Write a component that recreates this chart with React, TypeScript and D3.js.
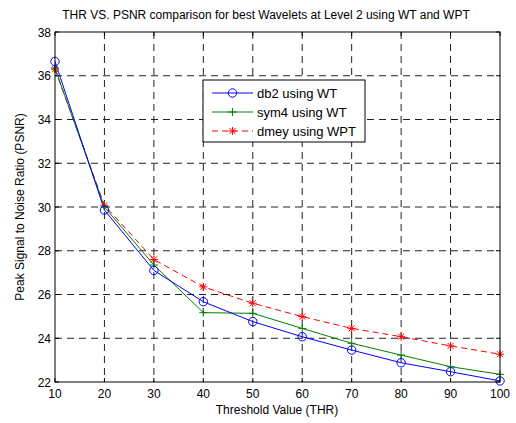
import React from "react";
import * as d3 from "d3";

const thresholds = [10, 20, 30, 40, 50, 60, 70, 80, 90, 100];
const db2WT = [36.65, 29.86, 27.1, 25.67, 24.76, 24.07, 23.46, 22.88, 22.47, 22.05];
const sym4WT = [36.35, 30.0, 27.35, 25.17, 25.14, 24.45, 23.77, 23.23, 22.7, 22.35];
const dmeyWPT = [36.3, 30.08, 27.6, 26.35, 25.6, 24.99, 24.45, 24.07, 23.65, 23.27];
const xTicks = [10, 20, 30, 40, 50, 60, 70, 80, 90, 100];
const yTicks = [22, 24, 26, 28, 30, 32, 34, 36, 38];
const seriesNames = ["db2 using WT", "sym4 using WT", "dmey using WPT"];

const W = 516, H = 423;
const L = 55, R = 500, T = 32, B = 382;
const FONT = "'Liberation Sans', Arial, sans-serif";

export default function App() {
  const x = d3.scaleLinear().domain([10, 100]).range([L, R]);
  const y = d3.scaleLinear().domain([22, 38]).range([B, T]);
  const line = d3.line<number>().x((_, i) => x(thresholds[i])).y((v) => y(v));

  const circle = (cx: number, cy: number, k: string) => (
    <circle key={k} cx={cx} cy={cy} r={4.2} fill="none" stroke="#0000ff" strokeWidth={1} />
  );
  const plus = (cx: number, cy: number, k: string) => (
    <path key={k} d={`M${cx - 4},${cy}H${cx + 4}M${cx},${cy - 4}V${cy + 4}`} stroke="#008000" strokeWidth={1} />
  );
  const star = (cx: number, cy: number, k: string) => (
    <path
      key={k}
      d={`M${cx - 4},${cy}H${cx + 4}M${cx},${cy - 4}V${cy + 4}M${cx - 3},${cy - 3}L${cx + 3},${cy + 3}M${cx - 3},${cy + 3}L${cx + 3},${cy - 3}`}
      stroke="#ff0000"
      strokeWidth={1}
    />
  );

  const lx0 = 203, ly0 = 80, lx1 = 365, ly1 = 142;
  const legendRows = [93, 112, 131];

  return (
    <svg width={W} height={H} style={{ position: "absolute", left: 0, top: 0, background: "#fff" }}>
      <rect x={0} y={0} width={W} height={H} fill="#fff" />
      {xTicks.slice(1, -1).map((t) => (
        <line key={"gx" + t} x1={x(t)} x2={x(t)} y1={T} y2={B} stroke="#222" strokeWidth={1} strokeDasharray="7,5" />
      ))}
      {yTicks.slice(1, -1).map((t) => (
        <line key={"gy" + t} x1={L} x2={R} y1={y(t)} y2={y(t)} stroke="#222" strokeWidth={1} strokeDasharray="7,5" />
      ))}
      {xTicks.map((t) => (
        <g key={"tx" + t}>
          <line x1={x(t)} x2={x(t)} y1={B} y2={B - 4} stroke="#000" />
          <line x1={x(t)} x2={x(t)} y1={T} y2={T + 4} stroke="#000" />
          <text x={x(t)} y={398} textAnchor="middle" fontFamily={FONT} fontSize={12} fill="#000">{t}</text>
        </g>
      ))}
      {yTicks.map((t) => (
        <g key={"ty" + t}>
          <line x1={L} x2={L + 4} y1={y(t)} y2={y(t)} stroke="#000" />
          <line x1={R} x2={R - 4} y1={y(t)} y2={y(t)} stroke="#000" />
          <text x={51} y={y(t) + 4.5} textAnchor="end" fontFamily={FONT} fontSize={12} fill="#000">{t}</text>
        </g>
      ))}
      <path d={line(dmeyWPT) || ""} fill="none" stroke="#ff0000" strokeWidth={1} strokeDasharray="6,4" />
      <path d={line(sym4WT) || ""} fill="none" stroke="#008000" strokeWidth={1} />
      <path d={line(db2WT) || ""} fill="none" stroke="#0000ff" strokeWidth={1} />
      {dmeyWPT.map((v, i) => star(x(thresholds[i]), y(v), "s" + i))}
      {sym4WT.map((v, i) => plus(x(thresholds[i]), y(v), "p" + i))}
      {db2WT.map((v, i) => circle(x(thresholds[i]), y(v), "c" + i))}
      <rect x={L} y={T} width={R - L} height={B - T} fill="none" stroke="#000" strokeWidth={1} />
      <text x={266} y={19} textAnchor="middle" fontFamily={FONT} fontSize={12} fill="#000">
        THR VS. PSNR comparison for best Wavelets at Level 2 using WT and WPT
      </text>
      <text x={277} y={414} textAnchor="middle" fontFamily={FONT} fontSize={12} fill="#000">
        Threshold Value (THR)
      </text>
      <text transform={`translate(24,207) rotate(-90)`} textAnchor="middle" fontFamily={FONT} fontSize={12} fill="#000">
        Peak Signal to Noise Ratio (PSNR)
      </text>
      <rect x={lx0} y={ly0} width={lx1 - lx0} height={ly1 - ly0} fill="#fff" stroke="#000" strokeWidth={1} />
      <line x1={212} x2={253} y1={legendRows[0]} y2={legendRows[0]} stroke="#0000ff" />
      {circle(232.5, legendRows[0], "lc")}
      <line x1={212} x2={253} y1={legendRows[1]} y2={legendRows[1]} stroke="#008000" />
      {plus(232.5, legendRows[1], "lp")}
      <line x1={212} x2={253} y1={legendRows[2]} y2={legendRows[2]} stroke="#ff0000" strokeDasharray="6,4" />
      {star(232.5, legendRows[2], "ls")}
      {seriesNames.map((n, i) => (
        <text key={n} x={257} y={legendRows[i] + 4.5} fontFamily={FONT} fontSize={13} fill="#000">{n}</text>
      ))}
    </svg>
  );
}
